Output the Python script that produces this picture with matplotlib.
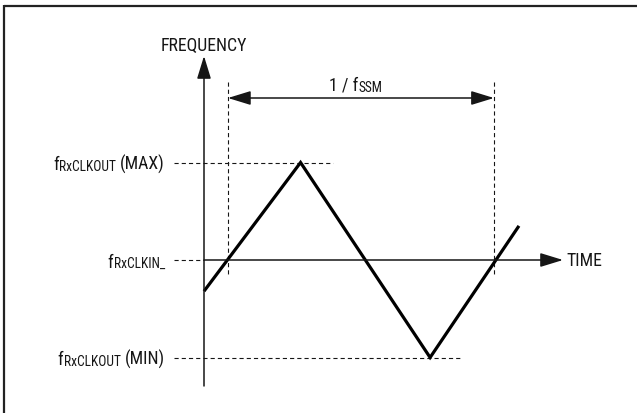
import matplotlib
matplotlib.use("Agg")
import matplotlib.pyplot as plt
from matplotlib import font_manager
from matplotlib.transforms import offset_copy

# ---------------- data (time in SSM periods, frequency normalised: MIN=-1, CLKIN=0, MAX=+1)
wave_t = [0.0, 0.363, 0.850, 1.184]
wave_f = [-0.32, 1.0, -1.0, 0.35]
level_names = ["MAX", "IN", "MIN"]
level_values = [1.0, 0.0, -1.0]
level_dash_end = [0.485, 0.0, 0.970]
period_marks = [0.090, 1.090]
axis_title_x = "TIME"
axis_title_y = "FREQUENCY"

# ---------------- font
fam = "DejaVu Sans"
for cand in ["Liberation Sans Narrow", "Roboto Condensed", "Liberation Sans"]:
    try:
        font_manager.findfont(cand, fallback_to_default=False)
        fam = cand
        break
    except Exception:
        pass
plt.rcParams["font.family"] = [fam, "DejaVu Sans"]
plt.rcParams["lines.scale_dashes"] = False

W, H = 637, 414
fig = plt.figure(figsize=(W / 100, H / 100), dpi=100)
ax = fig.add_axes([0, 0, 1, 1])
ax.set_axis_off()

# pixel mapping
OX, OY = 204.0, 261.0
TPX, FPX = 266.0, 97.5
ax.set_xlim(-OX / TPX, (W - OX) / TPX)
ax.set_ylim((OY - H) / FPX, OY / FPX)

def tx(px):
    return (px - OX) / TPX

def fy(py):
    return (OY - py) / FPX

renderer = fig.canvas.get_renderer()
FS = 12.8
DASH = (0, (3.0, 2.2))
ink = "#161616"

# frame (top & left edges only, as in the reference crop)
ax.plot([tx(4), tx(W + 5)], [fy(6.5), fy(6.5)], color="#222222", lw=1.6, solid_capstyle="butt")
ax.plot([tx(4.5), tx(4.5)], [fy(6), fy(H + 5)], color="#222222", lw=1.6, solid_capstyle="butt")

def arrow(x0, y0, x1, y1, both=False):
    style = "<|-|>" if both else "-|>"
    ax.annotate("", xy=(x1, y1), xytext=(x0, y0),
                arrowprops=dict(arrowstyle=f"{style},head_length=14,head_width=4.3",
                                mutation_scale=1, shrinkA=0, shrinkB=0,
                                lw=1.1, color=ink))

# axes
arrow(0, fy(387), 0, fy(57))
arrow(0, 0, tx(563), 0)

# period marks and dimension arrow
for pm in period_marks:
    ax.plot([pm, pm], [fy(83), fy(278)], color=ink, lw=0.8, linestyle=DASH)
arrow(period_marks[0], fy(99), period_marks[1], fy(99), both=True)

# level dashes
for lv, end in zip(level_values, level_dash_end):
    ax.plot([tx(174), end], [lv, lv], color=ink, lw=0.8, linestyle=DASH)

# triangle wave
ax.plot(wave_t, wave_f, color="black", lw=2.3, solid_capstyle="butt", solid_joinstyle="miter")

def compound(x, y, parts, ha):
    texts, widths = [], []
    for s, size, dy, gap in parts:
        t = ax.text(x, y, s, fontsize=size, ha="left", va="baseline", color=ink)
        widths.append(t.get_window_extent(renderer).width + gap)
        texts.append(t)
    total = sum(widths)
    off = {"left": 0.0, "right": -total, "center": -total / 2}[ha]
    for t, w, (s, size, dy, gap) in zip(texts, widths, parts):
        t.set_transform(offset_copy(ax.transData, fig=fig, x=off + gap, y=dy, units="dots"))
        off += w

SUB = FS * 0.76
for name, lv in zip(level_names, level_values):
    y = lv - 6.5 / FPX
    if name == "IN":
        parts = [("f", FS, 0, 0), ("RxCLKIN_", SUB, -0.8, 0.5)]
    else:
        parts = [("f", FS, 0, 0), ("RxCLKOUT", SUB, -0.8, 0.5), (f"({name})", FS, 0, 4)]
    compound(tx(165), y, parts, "right")

compound(tx(356), fy(90), [("1 / f", FS, 0, 0), ("SSM", SUB, -2.5, 0.5)], "center")
ax.text(0, fy(50.5), axis_title_y, fontsize=FS, ha="center", va="baseline", color=ink)
ax.text(tx(566), fy(266.5), axis_title_x, fontsize=FS, ha="left", va="baseline", color=ink)

fig.savefig("out.png", dpi=100)
